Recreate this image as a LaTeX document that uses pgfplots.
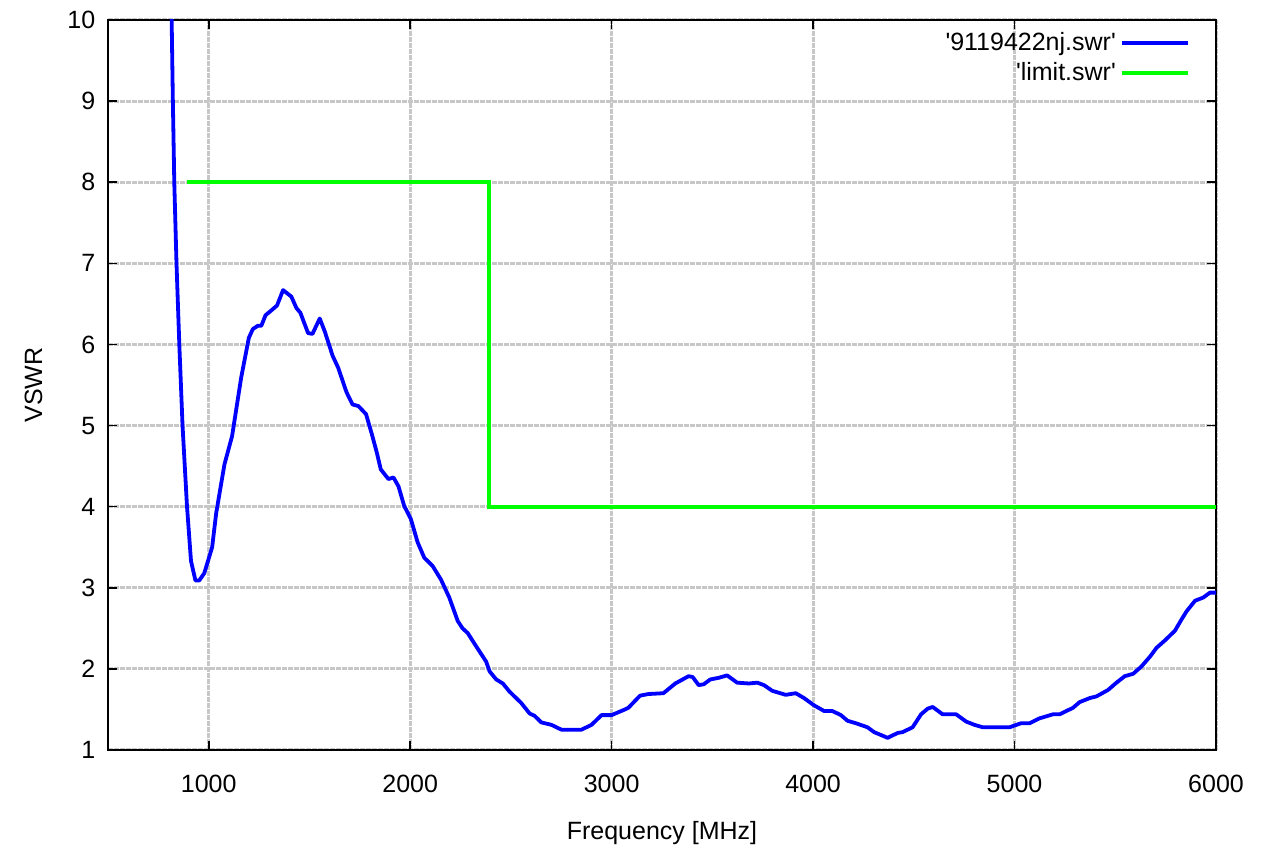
\documentclass[border=0pt]{standalone}
\usepackage{fontspec}
\setmainfont{Liberation Sans}[Ligatures=TeXOff]
\usepackage{pgfplots}
\pgfplotsset{compat=1.18}
\begin{document}
\fontsize{12.5}{15}\selectfont
\begin{tikzpicture}
\begin{axis}[
  scale only axis,
  width=554pt, height=365pt,
  xmin=500, xmax=6000, ymin=1, ymax=10,
  xtick={1000,2000,3000,4000,5000,6000},
  ytick={1,2,3,4,5,6,7,8,9,10},
  /pgf/number format/assume math mode=true,
  /pgf/number format/1000 sep={},
  tick label style={font=\fontsize{12.5}{15}\selectfont},
  label style={font=\fontsize{12.5}{15}\selectfont},
  xticklabel style={yshift=-8pt},
  yticklabel style={xshift=-2pt},
  tick align=inside,
  major tick length=4.5pt,
  tick style={black, line width=0.8pt},
  axis line style={black, line width=1pt},
  grid=major,
  grid style={draw=black!22, line width=1.5pt, dash pattern=on 2.5pt off 0.5pt},
  major grid style={draw=black!22, line width=1.5pt, dash pattern=on 2.5pt off 0.5pt},
  xlabel={Frequency [MHz]},
  ylabel={VSWR},
  xlabel style={yshift=-6pt},
  ylabel style={yshift=4pt},
  legend plot pos=right,
  legend cell align=right,
  legend style={draw=none, fill=none, at={(axis description cs:1,1)}, anchor=north east,
    xshift=-10pt, yshift=-2pt, font=\fontsize{12.5}{15}\selectfont, row sep=0pt},
  legend image code/.code={\draw[#1] (0pt,0pt) -- (33pt,0pt);},
]
\addplot[color={rgb,255:red,0;green,0;blue,255}, line width=1.9pt, line join=round] coordinates {
(810,10.6) (816,10.0) (822,9.0) (829,8.0) (840,7.0) (854,6.0) (870,5.0) (892,4.01) (912,3.33)
(934,3.09) (953,3.09) (978,3.18) (1017,3.50) (1037,3.92) (1078,4.52) (1116,4.87)
(1161,5.59) (1199,6.08) (1219,6.19) (1244,6.23) (1261,6.23) (1282,6.36) (1311,6.42)
(1339,6.48) (1369,6.67) (1410,6.59) (1435,6.45) (1455,6.39) (1493,6.14) (1515,6.13)
(1551,6.32) (1576,6.16) (1615,5.86) (1643,5.71) (1684,5.41) (1714,5.26) (1743,5.24)
(1781,5.14) (1809,4.90) (1834,4.67) (1854,4.46) (1892,4.34) (1917,4.36) (1942,4.25)
(1970,4.01) (2003,3.85) (2037,3.56) (2070,3.37) (2111,3.27) (2153,3.10) (2194,2.88)
(2236,2.59) (2260,2.50) (2286,2.44) (2327,2.28) (2377,2.09) (2394,1.97) (2427,1.87)
(2460,1.82) (2493,1.72) (2551,1.58) (2593,1.45) (2618,1.42) (2651,1.34) (2701,1.31)
(2751,1.25) (2850,1.25) (2900,1.31) (2950,1.43) (3000,1.43) (3066,1.50) (3083,1.52)
(3141,1.67) (3183,1.69) (3257,1.70) (3316,1.82) (3382,1.91) (3402,1.90) (3432,1.80)
(3457,1.81) (3490,1.87) (3532,1.89) (3573,1.92) (3623,1.83) (3681,1.82) (3723,1.83)
(3756,1.80) (3797,1.73) (3864,1.68) (3914,1.70) (3955,1.64) (4005,1.55) (4055,1.48)
(4096,1.48) (4138,1.43) (4171,1.36) (4212,1.33) (4270,1.28) (4303,1.22) (4370,1.15)
(4420,1.21) (4444,1.22) (4494,1.28) (4536,1.44) (4569,1.51) (4594,1.53) (4643,1.44)
(4710,1.44) (4760,1.35) (4801,1.31) (4842,1.28) (4975,1.28) (5033,1.33) (5075,1.33)
(5124,1.39) (5191,1.44) (5224,1.44) (5290,1.52) (5323,1.59) (5373,1.64) (5406,1.66)
(5464,1.74) (5506,1.83) (5547,1.91) (5589,1.94) (5630,2.03) (5672,2.15) (5705,2.26)
(5746,2.35) (5796,2.47) (5829,2.61) (5854,2.71) (5896,2.84) (5937,2.88) (5970,2.94)
(6000,2.94)
};
\addlegendentry{'9119422nj.swr'}
\addplot[color={rgb,255:red,0;green,255;blue,0}, line width=1.9pt, line join=miter] coordinates {
(890,8) (2390,8) (2390,4) (6000,4)
};
\addlegendentry{'limit.swr'}
\end{axis}
\pgfresetboundingbox
\path[use as bounding box] (current axis.south west) ++(-54pt,-51pt) rectangle ([shift={(22.5pt,10pt)}]current axis.north east);
\end{tikzpicture}
\end{document}
